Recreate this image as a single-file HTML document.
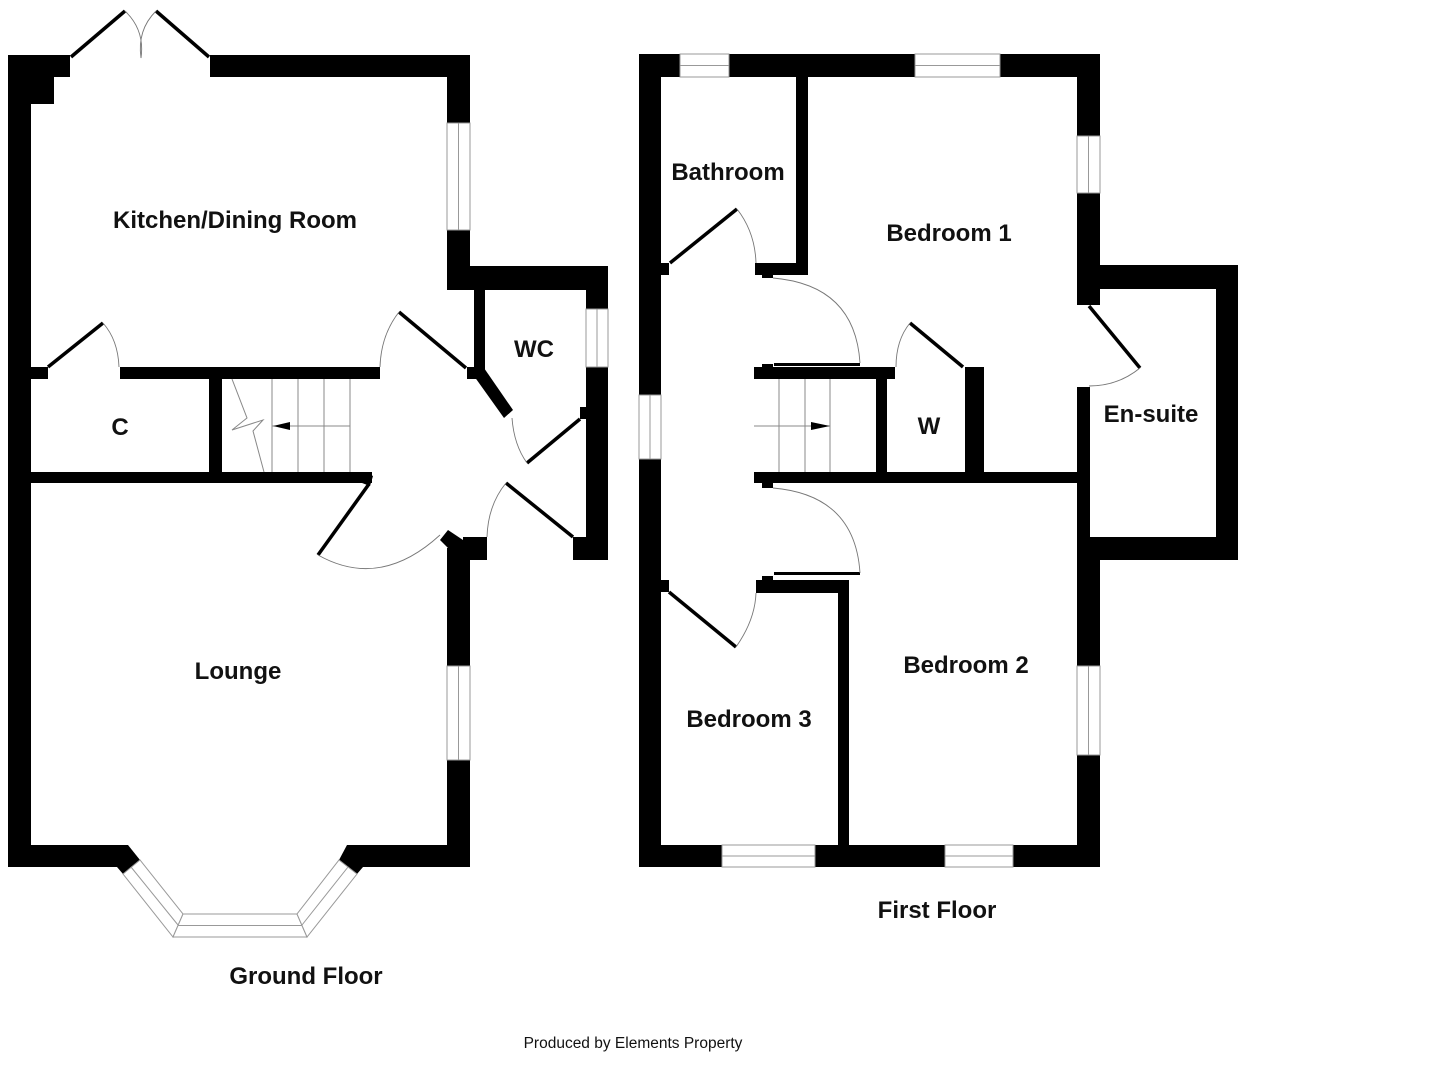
<!DOCTYPE html>
<html><head><meta charset="utf-8"><style>
html,body{margin:0;padding:0;background:#fff;width:1432px;height:1080px;overflow:hidden}
svg{display:block}
text{font-family:"Liberation Sans",Arial,sans-serif;font-weight:bold;font-size:24px;fill:#111;text-anchor:middle}
.w{fill:#fff;stroke:#999;stroke-width:1}
.m{stroke:#999;stroke-width:1;fill:none}
.a{fill:none;stroke:#777;stroke-width:0.9}
.l{stroke:#000;stroke-width:3.5;fill:none}
.t{stroke:#888;stroke-width:1;fill:none}
</style></head><body>
<svg width="1432" height="1080" viewBox="0 0 1432 1080" xmlns="http://www.w3.org/2000/svg">
<g fill="#000">
<rect x="8" y="55" width="23" height="812"/>
<rect x="8" y="55" width="62" height="22"/>
<rect x="8" y="55" width="46" height="49"/>
<rect x="210" y="55" width="260" height="22"/>
<rect x="447" y="55" width="23" height="68"/>
<rect x="447" y="230" width="23" height="60"/>
<rect x="447" y="266" width="161" height="24"/>
<rect x="586" y="266" width="22" height="43"/>
<rect x="586" y="367" width="22" height="193"/>
<rect x="580" y="407" width="7" height="12"/>
<rect x="573" y="537" width="35" height="23"/>
<rect x="474" y="290" width="11" height="78"/>
<rect x="467" y="367" width="18" height="12"/>
<polygon points="474,376 484,368 513,410 504,418"/>
<rect x="31" y="367" width="17" height="12"/>
<rect x="120" y="367" width="260" height="12"/>
<rect x="209" y="379" width="13" height="93"/>
<rect x="8" y="472" width="364" height="11"/>
<polygon points="365,472 373,476 370,486 362,483"/>
<polygon points="440,540 448,530 466,542 487,542 487,560 470,560 470,548 448,548"/>
<rect x="463" y="537" width="24" height="23"/>
<rect x="447" y="548" width="23" height="118"/>
<rect x="447" y="760" width="23" height="107"/>
<rect x="8" y="845" width="120" height="22"/>
<polygon points="117,867 128,845 140,860 123,874"/>
<rect x="347" y="845" width="123" height="22"/>
<polygon points="347,845 363,867 357,874 339,860"/>
<rect x="639" y="54" width="22" height="813"/>
<rect x="639" y="54" width="41" height="23"/>
<rect x="729" y="54" width="186" height="23"/>
<rect x="1000" y="54" width="100" height="23"/>
<rect x="1077" y="54" width="23" height="82"/>
<rect x="1077" y="193" width="23" height="112"/>
<rect x="1077" y="265" width="161" height="24"/>
<rect x="1216" y="265" width="22" height="295"/>
<rect x="1077" y="537" width="161" height="23"/>
<rect x="1077" y="387" width="13" height="173"/>
<rect x="1077" y="289" width="13" height="16"/>
<rect x="1077" y="560" width="23" height="106"/>
<rect x="1077" y="755" width="23" height="112"/>
<rect x="639" y="845" width="83" height="22"/>
<rect x="815" y="845" width="130" height="22"/>
<rect x="1013" y="845" width="87" height="22"/>
<rect x="796" y="77" width="12" height="198"/>
<rect x="755" y="263" width="53" height="12"/>
<rect x="762" y="274" width="11" height="4"/>
<rect x="661" y="263" width="8" height="12"/>
<rect x="754" y="367" width="141" height="12"/>
<rect x="762" y="364" width="11" height="4"/>
<rect x="876" y="379" width="11" height="93"/>
<rect x="965" y="367" width="19" height="105"/>
<rect x="754" y="472" width="323" height="11"/>
<rect x="762" y="482" width="11" height="6"/>
<rect x="756" y="580" width="93" height="13"/>
<rect x="762" y="576" width="11" height="5"/>
<rect x="838" y="580" width="11" height="265"/>
<rect x="661" y="580" width="8" height="12"/>
<rect x="774" y="363" width="86" height="3"/>
<rect x="774" y="572" width="86" height="3"/>
</g>
<rect class="w" x="447" y="123" width="23" height="107"/><line class="m" x1="458.5" y1="123" x2="458.5" y2="230"/>
<rect class="w" x="586" y="309" width="22" height="58"/><line class="m" x1="597" y1="309" x2="597" y2="367"/>
<rect class="w" x="447" y="666" width="23" height="94"/><line class="m" x1="458.5" y1="666" x2="458.5" y2="760"/>
<polygon class="w" points="123,874 140,860 183,914 173,937"/><line class="m" x1="131" y1="867" x2="178" y2="925"/>
<polygon class="w" points="173,937 183,914 297,914 307,937"/><line class="m" x1="178" y1="925.5" x2="302" y2="925.5"/>
<polygon class="w" points="307,937 297,914 339,860 357,874"/><line class="m" x1="302" y1="925" x2="348" y2="867"/>
<rect class="w" x="680" y="54" width="49" height="23"/><line class="m" x1="680" y1="65.5" x2="729" y2="65.5"/>
<rect class="w" x="915" y="54" width="85" height="23"/><line class="m" x1="915" y1="65.5" x2="1000" y2="65.5"/>
<rect class="w" x="1077" y="136" width="23" height="57"/><line class="m" x1="1088.5" y1="136" x2="1088.5" y2="193"/>
<rect class="w" x="639" y="395" width="22" height="64"/><line class="m" x1="650" y1="395" x2="650" y2="459"/>
<rect class="w" x="1077" y="666" width="23" height="89"/><line class="m" x1="1088.5" y1="666" x2="1088.5" y2="755"/>
<rect class="w" x="722" y="845" width="93" height="22"/><line class="m" x1="722" y1="856" x2="815" y2="856"/>
<rect class="w" x="945" y="845" width="68" height="22"/><line class="m" x1="945" y1="856" x2="1013" y2="856"/>
<line class="l" x1="71" y1="57" x2="125" y2="11"/><path class="a" d="M125,11 Q145,30 141,58"/>
<line class="l" x1="209" y1="57" x2="156" y2="11"/><path class="a" d="M156,11 Q137,30 141,58"/>
<line class="l" x1="48" y1="367" x2="103" y2="323"/><path class="a" d="M103,323 Q118,340 119,367"/>
<line class="l" x1="466" y1="368" x2="399" y2="312"/><path class="a" d="M399,312 Q381,335 380,367"/>
<line class="l" x1="527" y1="463" x2="580" y2="419"/><path class="a" d="M512,418 Q514,445 527,463"/>
<line class="l" x1="506" y1="483" x2="573" y2="537"/><path class="a" d="M506,483 Q488,505 487,537"/>
<line class="l" x1="369" y1="484" x2="318" y2="555"/><path class="a" d="M318,555 Q380,590 440,535"/>
<g class="t"><line x1="272" y1="379" x2="272" y2="472"/><line x1="298" y1="379" x2="298" y2="472"/><line x1="324" y1="379" x2="324" y2="472"/><line x1="350" y1="379" x2="350" y2="472"/><line x1="272" y1="426" x2="350" y2="426"/>
<path d="M232,379 L247,418 L232,430 L263,420 L253,431 L264,472"/></g>
<polygon points="273,426 290,422 290,430" fill="#000"/>
<line class="l" x1="670" y1="263" x2="737" y2="209"/><path class="a" d="M737,209 Q755,232 756,263"/>
<path class="a" d="M773,278 Q855,285 860,363"/>
<line class="l" x1="963" y1="367" x2="910" y2="323"/><path class="a" d="M910,323 Q896,340 896,367"/>
<line class="l" x1="1089" y1="306" x2="1140" y2="368"/><path class="a" d="M1140,368 Q1118,386 1089,386"/>
<path class="a" d="M773,488 Q855,495 860,573"/>
<line class="l" x1="669" y1="592" x2="736" y2="647"/><path class="a" d="M736,647 Q755,620 756,593"/>
<g class="t"><line x1="779" y1="379" x2="779" y2="472"/><line x1="805" y1="379" x2="805" y2="472"/><line x1="830" y1="379" x2="830" y2="472"/><line x1="754" y1="426" x2="830" y2="426"/></g>
<polygon points="830,426 811,422 811,430" fill="#000"/>
<text x="235" y="228">Kitchen/Dining Room</text>
<text x="534" y="357">WC</text>
<text x="120" y="435">C</text>
<text x="238" y="679">Lounge</text>
<text x="306" y="984">Ground Floor</text>
<text x="728" y="180">Bathroom</text>
<text x="949" y="241">Bedroom 1</text>
<text x="929" y="434">W</text>
<text x="1151" y="422">En-suite</text>
<text x="966" y="673">Bedroom 2</text>
<text x="749" y="727">Bedroom 3</text>
<text x="937" y="918">First Floor</text>
<text x="633" y="1048" style="font-weight:normal;font-size:15.5px">Produced by Elements Property</text>
</svg>
</body></html>
